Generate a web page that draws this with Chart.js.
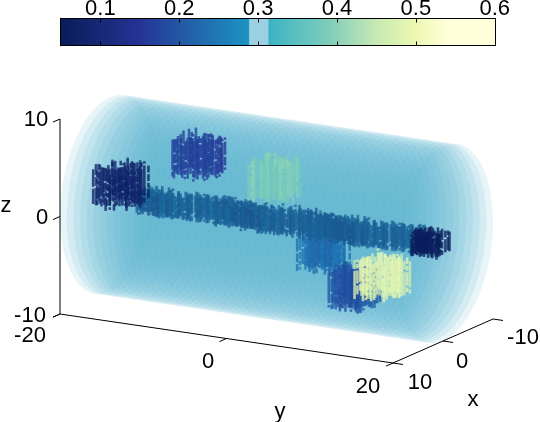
<!DOCTYPE html>
<html>
<head>
<meta charset="utf-8">
<script src="https://cdn.jsdelivr.net/npm/chart.js@4"></script>
<style>
  html, body { margin: 0; background: #fff; }
  #wrap { position: relative; width: 540px; height: 422px; overflow: hidden; }
  canvas { position: absolute; left: 0; top: 0; }
</style>
</head>
<body>
<div id="wrap">
  <canvas id="plot" width="540" height="422"></canvas>
  <canvas id="bar" width="540" height="60"></canvas>
</div>
<script>
// colorbar
const cbMin = 0.0494;
const cbMax = 0.601;
const cbTicks = [0.1, 0.2, 0.3, 0.4, 0.5, 0.6];
const cbStops = [0.05, 0.15, 0.21, 0.285, 0.32, 0.39, 0.45, 0.5, 0.54, 0.601];
const cbColors = [[8,29,88],[37,52,148],[34,94,168],[29,145,192],[65,182,196],[127,205,187],[199,233,180],[237,248,177],[255,255,217],[255,255,217]];
const cbBand = [0.289, 0.3127];

// 3d axes
const xTicks = [-10, 0, 10];
const yTicks = [-20, 0, 20];
const zTicks = [-10, 0, 10];

// the pale cylinder: slices along y and the outline of each slice
const sliceY = [-20,-19.2,-18.4,-17.6,-16.8,-16,-15.2,-14.4,-13.6,-12.8,-12,-11.2,-10.4,-9.6,-8.8,-8,-7.2,-6.4,-5.6,-4.8,
  -4,-3.2,-2.4,-1.6,-0.8,0,0.8,1.6,2.4,3.2,4,4.8,5.6,6.4,7.2,8,8.8,9.6,10.4,11.2,
  12,12.8,13.6,14.4,15.2,16,16.8,17.6,18.4,19.2,20];
const sliceAngles = [0,10,20,30,40,50,60,70,80,90,100,110,120,130,140,150,160,170,180,190,200,210,220,230,240,250,260,270,280,290,300,310,320,330,340,350];
const radius = 10;

// the blocks, in draw order
const blockX = [5, 5, -5, 0, -5, -5];
const blockY = [3.2, -6.3, 3, -18.5, 6.3, 9.9];
const blockZ = [5.7, 6.8, -3.7, 1.2, -7.3, -5.7];
const blockValue = [0.38, 0.16, 0.23, 0.07, 0.19, 0.47];
const blockHalf = 2.2;

// the rod along y
const rodY = [-16, 17, 20];
const rodValue = [0.23, 0.05];
const rodShade = [0.85, 1];
const rodHalf = 1.3;

// hand typed speckle, gives the torn edges and the holes in the blocks
const speckle = [0.62,0.14,0.91,0.37,0.73,0.05,0.48,0.86,0.22,0.67,0.31,0.95,0.11,0.54,0.78,0.27,0.83,0.41,0.08,0.59,
  0.97,0.33,0.7,0.18,0.45,0.89,0.02,0.64,0.25,0.76,0.51,0.16,0.93,0.38,0.69,0.1,0.57,0.81,0.29,0.44,0.99,0.2,0.74,0.35,0.6,0.07,0.85];

// oblique view
function project(x, y, z) {
  return {
    x: 60 + (y + 20) * 8.325 + (10 - x) * 5,
    y: 314 + (y + 20) * 1.225 - (10 - x) * 2.2 - (z + 10) * 9.75
  };
}

function colorOf(v, alpha, shade) {
  let i = 0;
  while (i < cbStops.length - 2 && v > cbStops[i + 1]) i++;
  const t = Math.min(1, Math.max(0, (v - cbStops[i]) / (cbStops[i + 1] - cbStops[i])));
  const c = cbColors[i].map((a, k) => Math.round((a + (cbColors[i + 1][k] - a) * t) * shade));
  return `rgba(${c[0]},${c[1]},${c[2]},${alpha})`;
}

function lineSet(points) {
  return { data: points, showLine: true, borderColor: '#000', borderWidth: 1, pointRadius: 0, fill: false };
}

function sliceSets() {
  return sliceY.map(y => ({
    data: sliceAngles.map(a => {
      const r = a * Math.PI / 180;
      return project(radius * Math.cos(r), y, radius * Math.sin(r));
    }),
    showLine: true,
    fill: 'shape',
    backgroundColor: 'rgba(84,174,203,0.14)',
    borderWidth: 0,
    pointRadius: 0
  }));
}

// columns of small squares between y0 and y1, holes and torn ends come from speckle
function voxelSet(cx, cz, half, y0, y1, value, seed, shade) {
  const pts = [], cols = [];
  let i = 0;
  for (let y = y0; y <= y1; y += 0.5, i++) {
    let j = 0;
    for (let x = -half; x <= half + 0.01; x += half / 4, j++) {
      const col = speckle[(i * 11 + j * 7 + seed) % speckle.length];
      if (col < 0.3) continue;
      const low = speckle[(i * 5 + j * 13 + seed) % speckle.length] * 0.6 * half / 1.9;
      const high = speckle[(i * 17 + j * 3 + seed) % speckle.length] * 0.6 * half / 1.9;
      const v = value + (col - 0.5) * 0.05;
      let k = 0;
      for (let z = -half + low; z <= half - high; z += 0.22, k++) {
        if (speckle[(i * 3 + j * 19 + k * 2 + seed) % speckle.length] < 0.12) continue;
        pts.push(project(cx + x, y, cz + z));
        cols.push(colorOf(v, 0.75, shade));
      }
    }
  }
  return { data: pts, pointStyle: 'rect', pointRadius: 1.8, pointBorderWidth: 0, pointBackgroundColor: cols, showLine: false };
}

function axisSets() {
  const sets = [];
  sets.push(lineSet([project(10, -20, -10), project(10, -20, 10)]));
  sets.push(lineSet([project(10, -20, -10), project(10, 20, -10)]));
  sets.push(lineSet([project(10, 20, -10), project(-10, 20, -10)]));
  zTicks.forEach(z => sets.push(lineSet([project(10, -20, z), project(11.4, -20, z)])));
  yTicks.forEach(y => sets.push(lineSet([project(10, y, -10), project(11.4, y, -10)])));
  xTicks.forEach(x => sets.push(lineSet([project(x, 20, -10), project(x, 21.2, -10)])));
  return sets;
}

// text on the 3d axes: [string, center x, center y]
const axisText = [
  ['10', 36, 119], ['0', 42, 217], ['-10', 30, 315], ['z', 6, 205],
  ['-20', 30, 335], ['0', 208, 361], ['20', 368, 386], ['y', 280, 411],
  ['10', 420, 382], ['0', 462, 361], ['-10', 523, 337], ['x', 473, 399]
];

const textPlugin = {
  id: 'axisText',
  afterDraw(chart) {
    const ctx = chart.ctx;
    ctx.save();
    ctx.fillStyle = '#000';
    ctx.font = '22px "Liberation Sans"';
    ctx.textAlign = 'center';
    ctx.textBaseline = 'middle';
    axisText.forEach(t => ctx.fillText(t[0], t[1], t[2] + 1));
    ctx.restore();
  }
};

const datasets = [...sliceSets()];
for (let b = 0; b < 3; b++) {
  datasets.push(voxelSet(blockX[b], blockZ[b], blockHalf, blockY[b] - blockHalf, blockY[b] + blockHalf, blockValue[b], b * 9, 1));
}
datasets.push(voxelSet(0, 0, rodHalf, rodY[0], rodY[1], rodValue[0], 4, rodShade[0]));
datasets.push(voxelSet(0, 0, rodHalf, rodY[1], rodY[2], rodValue[1], 8, rodShade[1]));
for (let b = 3; b < blockX.length; b++) {
  datasets.push(voxelSet(blockX[b], blockZ[b], blockHalf, blockY[b] - blockHalf, blockY[b] + blockHalf, blockValue[b], b * 9, 1));
}
datasets.push(...axisSets());

// first dataset ends up on top in chart.js, so flip
datasets.reverse();

new Chart(document.getElementById('plot'), {
  type: 'scatter',
  data: { datasets },
  plugins: [textPlugin],
  options: {
    responsive: false,
    animation: false,
    events: [],
    layout: { padding: 0, autoPadding: false },
    plugins: { legend: { display: false }, tooltip: { enabled: false } },
    scales: {
      x: { type: 'linear', display: false, min: 0, max: 540 },
      y: { type: 'linear', display: false, min: 0, max: 422, reverse: true }
    }
  }
});

// colorbar chart
function barGradient(ctx) {
  const chart = ctx.chart;
  if (!chart.chartArea) return '#000';
  const sc = chart.scales.x;
  const g = chart.ctx.createLinearGradient(sc.left, 0, sc.right, 0);
  cbStops.forEach((s, i) => {
    const p = Math.min(1, Math.max(0, (s - cbMin) / (cbMax - cbMin)));
    g.addColorStop(p, `rgb(${cbColors[i].join(',')})`);
  });
  return g;
}

const framePlugin = {
  id: 'frame',
  afterDraw(chart) {
    const { ctx, chartArea: a, scales } = chart;
    ctx.save();
    ctx.strokeStyle = '#000';
    ctx.lineWidth = 1;
    ctx.strokeRect(a.left, a.top, a.right - a.left, a.bottom - a.top);
    cbTicks.forEach(v => {
      const px = Math.round(scales.x.getPixelForValue(v)) + 0.5;
      ctx.beginPath();
      ctx.moveTo(px, a.top); ctx.lineTo(px, a.top + 4);
      ctx.moveTo(px, a.bottom); ctx.lineTo(px, a.bottom - 4);
      ctx.stroke();
    });
    ctx.restore();
  }
};

new Chart(document.getElementById('bar'), {
  type: 'bar',
  data: {
    labels: ['c'],
    datasets: [
      { data: [cbBand], backgroundColor: '#9bd0e2', barPercentage: 1, categoryPercentage: 1 },
      { data: [[cbMin, cbMax]], backgroundColor: barGradient, barPercentage: 1, categoryPercentage: 1 }
    ]
  },
  plugins: [framePlugin],
  options: {
    indexAxis: 'y',
    responsive: false,
    animation: false,
    events: [],
    layout: { padding: { left: 60.5, right: 44.5, bottom: 14.5, top: 0 }, autoPadding: false },
    plugins: { legend: { display: false }, tooltip: { enabled: false } },
    datasets: { bar: { grouped: false } },
    scales: {
      x: {
        type: 'linear',
        position: 'top',
        min: cbMin,
        max: cbMax,
        grid: { display: false, drawTicks: false },
        border: { display: false },
        afterBuildTicks: s => { s.ticks = cbTicks.map(v => ({ value: v })); },
        afterFit: s => { s.height = 18.5; },
        ticks: {
          color: '#000',
          padding: -3.5,
          maxRotation: 0,
          autoSkip: false,
          font: { family: '"Liberation Sans"', size: 22 },
          callback: v => v.toFixed(1)
        }
      },
      y: { display: false }
    }
  }
});
</script>
</body>
</html>
